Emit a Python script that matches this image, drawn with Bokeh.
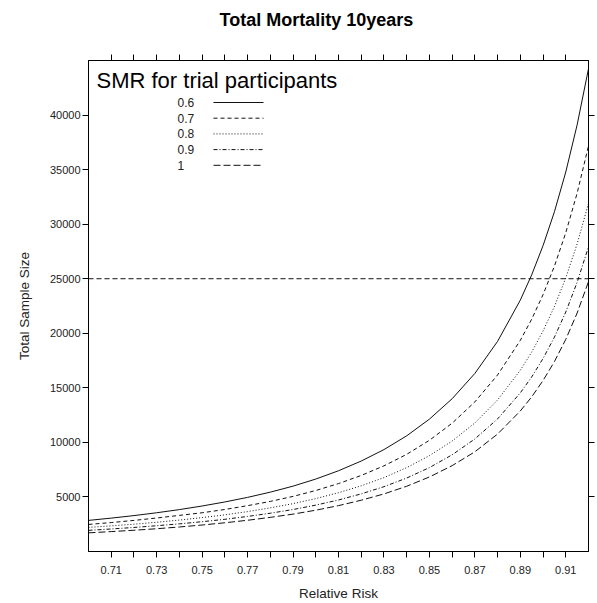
from bokeh.plotting import figure
from bokeh.models import LinearAxis, FixedTicker, Span, Label, Arrow
from bokeh.embed import file_html
from bokeh.resources import INLINE

# ---- data ----
relative_risk = [0.70, 0.71, 0.72, 0.73, 0.74, 0.75, 0.76, 0.77, 0.78, 0.79, 0.80,
                 0.81, 0.82, 0.83, 0.84, 0.85, 0.86, 0.87, 0.88, 0.89, 0.895,
                 0.90, 0.905, 0.91, 0.915, 0.92]
n_smr_06 = [2850, 3060, 3290, 3550, 3840, 4170, 4540, 4960, 5440, 5990, 6640,
            7400, 8290, 9340, 10600, 12130, 14000, 16320, 19260, 23040, 25350,
            28030, 31130, 34780, 39100, 44250]
n_smr_07 = [2480, 2650, 2850, 3070, 3310, 3550, 3850, 4200, 4590, 5050, 5590,
            6225, 6970, 7850, 8905, 10190, 11760, 13710, 16180, 19350, 21290,
            23540, 26150, 29215, 32840, 37170]
n_smr_08 = [2210, 2350, 2500, 2680, 2880, 3107, 3360, 3656, 3998, 4385, 4847,
            5387, 6019, 6772, 7685, 8782, 10122, 11783, 13886, 16612, 18277,
            20210, 22445, 25076, 28191, 31904]
n_smr_09 = [1938, 2066, 2204, 2361, 2534, 2731, 2951, 3214, 3509, 3846, 4250,
            4721, 5281, 5940, 6731, 7690, 8862, 10314, 12153, 14538, 15996,
            17687, 19643, 21946, 24672, 27922]
n_smr_10 = [1710, 1824, 1948, 2087, 2246, 2427, 2633, 2862, 3128, 3426, 3785,
            4203, 4700, 5277, 5978, 6829, 7868, 9139, 10766, 12879, 14171,
            15669, 17402, 19442, 21857, 24736]
smr_labels = ["0.6", "0.7", "0.8", "0.9", "1"]
target_n = 25000

x_label_ticks = [0.71, 0.73, 0.75, 0.77, 0.79, 0.81, 0.83, 0.85, 0.87, 0.89, 0.91]
x_minor_ticks = [0.72, 0.74, 0.76, 0.78, 0.80, 0.82, 0.84, 0.86, 0.88, 0.90]
y_ticks = [5000, 10000, 15000, 20000, 25000, 30000, 35000, 40000]

FONT = "Liberation Sans"
series = [n_smr_06, n_smr_07, n_smr_08, n_smr_09, n_smr_10]
dashes = ["solid", "4 3", "1 2", "4 2 1 2", "7 3"]

p = figure(width=597, height=603, x_range=(0.70, 0.92), y_range=(0, 45000),
           output_backend="svg", toolbar_location=None,
           x_axis_type=None, y_axis_type=None,
           min_border_left=88, min_border_right=9, min_border_top=60, min_border_bottom=51)
p.xgrid.visible = False
p.ygrid.visible = False
p.outline_line_color = "black"
p.outline_line_width = 1
p.background_fill_color = "white"
p.border_fill_color = "white"

# trailing newline gives the title box a second (empty) line, lifting the text
p.title.text = "Total Mortality 10years\n"
p.title.align = "left"
p.title.offset = 131
p.title.vertical_align = "top"
p.title.text_line_height = 1.0
p.title.standoff = 5
p.title.text_font = FONT
p.title.text_font_size = "18px"
p.title.text_font_style = "bold"
p.title.text_color = "black"


def style_axis(ax):
    ax.axis_line_color = "black"
    ax.major_tick_line_color = "black"
    ax.minor_tick_line_color = "black"
    ax.major_tick_in = 0
    ax.major_tick_out = 6
    ax.minor_tick_in = 0
    ax.minor_tick_out = 6
    ax.major_label_text_font = FONT
    ax.major_label_text_font_size = "11px"
    ax.major_label_text_color = "#222222"
    ax.axis_label_text_font = FONT
    ax.axis_label_text_font_style = "normal"
    ax.axis_label_text_font_size = "13.5px"
    ax.axis_label_text_color = "#222222"


bottom = LinearAxis(ticker=FixedTicker(ticks=x_label_ticks, minor_ticks=x_minor_ticks),
                    axis_label="Relative Risk")
style_axis(bottom)
bottom.major_label_standoff = 8
bottom.axis_label_standoff = 9
p.add_layout(bottom, "below")

# top and right: ticks only (drawn as minor ticks, so no labels)
top = LinearAxis(ticker=FixedTicker(ticks=[], minor_ticks=x_label_ticks + x_minor_ticks))
style_axis(top)
p.add_layout(top, "above")

left = LinearAxis(ticker=FixedTicker(ticks=y_ticks, minor_ticks=[]),
                  axis_label="Total Sample Size")
style_axis(left)
left.major_label_standoff = 2
left.axis_label_standoff = 15
p.add_layout(left, "left")

right = LinearAxis(ticker=FixedTicker(ticks=[], minor_ticks=y_ticks))
style_axis(right)
p.add_layout(right, "right")

for vals, dash in zip(series, dashes):
    p.line(relative_risk, vals, line_color="#111111", line_width=1, line_dash=dash)

p.add_layout(Span(location=target_n, dimension="width", line_color="#111111",
                  line_width=1, line_dash="5 3"))

# legend (screen units are relative to the plot frame's lower-left corner)
p.add_layout(Label(x=8, y=471.5, x_units="screen", y_units="screen",
                   text="SMR for trial participants", text_font=FONT,
                   text_font_size="22px", text_color="black",
                   text_baseline="middle", text_align="left"))
for i, (lab, dash) in enumerate(zip(smr_labels, dashes)):
    yy = 449 - i * 15.7
    p.add_layout(Label(x=89, y=yy, x_units="screen", y_units="screen",
                       text=lab, text_font=FONT, text_font_size="12px",
                       text_color="#222222", text_baseline="middle", text_align="left"))
    p.add_layout(Arrow(end=None, x_start=125, y_start=yy, x_end=175, y_end=yy,
                       start_units="screen", end_units="screen",
                       line_color="#111111", line_width=1, line_dash=dash))

open("out.html", "w").write(file_html(p, INLINE))
